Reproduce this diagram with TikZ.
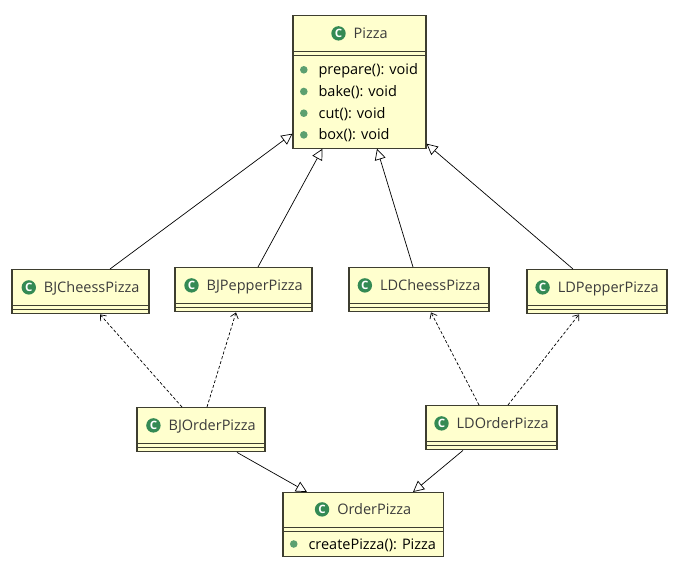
\documentclass[tikz,border=0pt]{standalone}
\usepackage{fontspec}
\setmainfont{Open Sans}
\usetikzlibrary{%
  arrows.meta,%
  shapes.multipart,% wg. rectangle split
  positioning%
}
\definecolor{clsfill}{RGB}{255,255,206}
\definecolor{clsdraw}{RGB}{62,62,48}
\definecolor{clsgreen}{RGB}{52,138,84}
\definecolor{opgreen}{RGB}{92,160,112}
\definecolor{clstext}{RGB}{60,60,60}

\newcommand{\clsicon}{\tikz[baseline={(0pt,-5.2pt)}]{\fill[clsgreen] (0pt,0pt) circle (7.2pt);
  \pgftext[at=\pgfpointorigin]{\color{white}\bfseries\fontsize{11.5}{11.5}\selectfont C}}\hspace{8pt}}
\newcommand{\opdot}{\tikz[baseline={(0pt,-5pt)}]\fill[opgreen] (0pt,0pt) circle (3.8pt);\hspace{11pt}}

\begin{document}
\begin{tikzpicture}
  [
  x=1pt, y=-1pt,
  font=\fontsize{14.5}{21.7}\selectfont, text=clstext,
  cls/.style={rectangle split, rectangle split parts=3, rectangle split part align={center,left,left},
    anchor=north, align=left, inner xsep=7pt, inner ysep=0pt, draw=clsdraw, fill=clsfill, line width=1.1pt},
  inherit/.style={draw=black, line width=0.7pt, -{Triangle[open,length=11pt,width=11pt]}},
  depend/.style={draw=black, line width=0.7pt, dash pattern=on 3pt off 2pt, -{Straight Barb[length=5pt,width=8pt]}},
  ]
  \path[use as bounding box, fill=white] (0,0) rectangle (691,580);

  \node[cls, minimum width=133pt] (pizza) at (359.5,15)
    {\rule[-12.5pt]{0pt}{35pt}\clsicon Pizza
     \nodepart{two}\rule{0pt}{2.5pt}
     \nodepart{three}\rule[-5.7pt]{0pt}{24.7pt}\opdot prepare(): void\\
       \rule[-5.7pt]{0pt}{21.7pt}\opdot bake(): void\\
       \rule[-5.7pt]{0pt}{21.7pt}\opdot cut(): void\\
       \rule[-7.7pt]{0pt}{23.7pt}\opdot box(): void};

  \foreach \nm/\txt/\x/\y/\w in {bjc/BJCheessPizza/80.5/269/137, bjp/BJPepperPizza/243.5/267/137,
      ldc/LDCheessPizza/419/267/140, ldp/LDPepperPizza/597/269/140,
      bjo/BJOrderPizza/201/407/128, ldo/LDOrderPizza/491.5/405/131} {
    \node[cls, minimum width=\w pt] (\nm) at (\x,\y)
      {\rule[-12.5pt]{0pt}{35pt}\clsicon\txt
       \nodepart{two}\rule{0pt}{2.5pt}
       \nodepart{three}\rule{0pt}{3.5pt}};
  }

  \node[cls, minimum width=160pt] (order) at (363,492)
    {\rule[-12.5pt]{0pt}{34pt}\clsicon OrderPizza
     \nodepart{two}\rule{0pt}{2.5pt}
     \nodepart{three}\rule[-6.8pt]{0pt}{24pt}\opdot createPizza(): Pizza};

  % inheritance
  \draw[inherit] ([xshift=29.5pt]bjc.north) -- ([yshift=15pt]pizza.south west);
  \draw[inherit] ([xshift=14.5pt]bjp.north) -- ([xshift=-37pt]pizza.south);
  \draw[inherit] ([xshift=-6pt]ldc.north) -- ([xshift=17.5pt]pizza.south);
  \draw[inherit] ([xshift=-24pt]ldp.north) -- ([yshift=5pt]pizza.south east);
  \draw[inherit] ([xshift=36pt]bjo.south) -- ([xshift=-56pt]order.north);
  \draw[inherit] ([xshift=-28.5pt]ldo.south) -- ([xshift=50pt]order.north);

  % dependency
  \draw[depend] ([xshift=-19pt]bjo.north) -- ([xshift=19.5pt]bjc.south);
  \draw[depend] ([xshift=6pt]bjo.north) -- ([xshift=-7.5pt]bjp.south);
  \draw[depend] ([xshift=-12.5pt]ldo.north) -- ([xshift=12pt]ldc.south);
  \draw[depend] ([xshift=16.5pt]ldo.north) -- ([xshift=-18pt]ldp.south);

\end{tikzpicture}
\end{document}
